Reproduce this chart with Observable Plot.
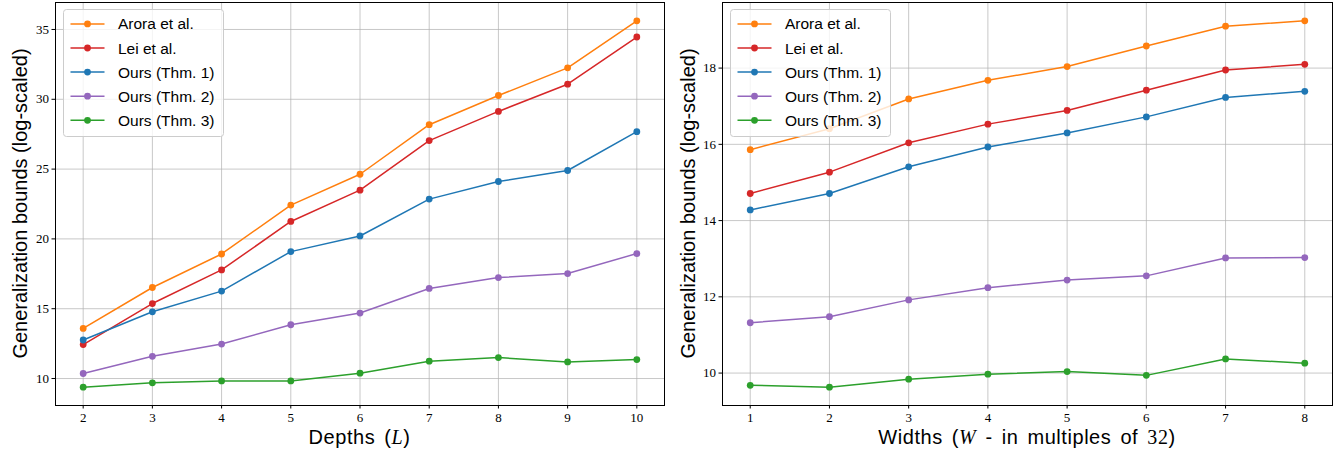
<!DOCTYPE html>
<html><head><meta charset="utf-8">
<script src="https://cdn.jsdelivr.net/npm/d3@7"></script>
<script src="https://cdn.jsdelivr.net/npm/@observablehq/plot@0.6"></script>
<style>
body{margin:0;background:#fff;}
#wrap{display:flex;width:1343px;height:460px;overflow:hidden;}
</style></head><body><div id="wrap"></div>
<script>
const seriesNames = ["Arora et al.", "Lei et al.", "Ours (Thm. 1)", "Ours (Thm. 2)", "Ours (Thm. 3)"];
const seriesColors = ["#ff7f0e", "#d62728", "#1f77b4", "#9467bd", "#2ca02c"];

const depths = [2, 3, 4, 5, 6, 7, 8, 9, 10];
const aroraDepth = [13.59, 16.52, 18.92, 22.42, 24.63, 28.18, 30.27, 32.25, 35.62];
const leiDepth   = [12.43, 15.37, 17.78, 21.25, 23.49, 27.04, 29.13, 31.08, 34.46];
const thm1Depth  = [12.76, 14.78, 16.26, 19.09, 20.21, 22.85, 24.11, 24.90, 27.68];
const thm2Depth  = [10.36, 11.59, 12.47, 13.85, 14.69, 16.45, 17.23, 17.52, 18.95];
const thm3Depth  = [9.38, 9.69, 9.83, 9.83, 10.38, 11.24, 11.50, 11.19, 11.36];
const depthYTicks = [10, 15, 20, 25, 30, 35];

const widths = [1, 2, 3, 4, 5, 6, 7, 8];
const aroraWidth = [15.86, 16.41, 17.19, 17.68, 18.04, 18.58, 19.10, 19.24];
const leiWidth   = [14.71, 15.27, 16.04, 16.53, 16.89, 17.42, 17.95, 18.10];
const thm1Width  = [14.28, 14.71, 15.41, 15.93, 16.30, 16.72, 17.23, 17.39];
const thm2Width  = [11.32, 11.48, 11.92, 12.24, 12.44, 12.55, 13.02, 13.03];
const thm3Width  = [9.68, 9.63, 9.84, 9.97, 10.04, 9.94, 10.37, 10.26];
const widthYTicks = [10, 12, 14, 16, 18];

const yLabel = "Generalization bounds (log-scaled)";
const depthLabel = [["Depths (", "sans"], ["L", "ital"], [")", "sans"]];
const widthLabel = [["Widths (", "sans"], ["W", "ital"], [" - in multiples of ", "sans"], ["32", "serif"], [")", "sans"]];

const SANS = "'Liberation Sans', Arial, sans-serif";
const SERIF = "'Liberation Serif', 'Times New Roman', serif";

function panel({xs, values, yTicks, width, marginLeft, marginRight, xLabel}) {
  const height = 460, marginTop = 2, marginBottom = 55;
  const rows = [];
  seriesNames.forEach((s, i) => xs.forEach((x, j) => rows.push({series: s, x, y: values[i][j]})));
  const lo = d3.min(rows, d => d.y), hi = d3.max(rows, d => d.y), pad = (hi - lo) * 0.05;
  const xlo = d3.min(xs), xhi = d3.max(xs), xpad = (xhi - xlo) * 0.05;
  const marks = [
    Plot.gridX(xs, {stroke: "#b0b0b0", strokeOpacity: 0.7, strokeWidth: 1}),
    Plot.gridY(yTicks, {stroke: "#b0b0b0", strokeOpacity: 0.7, strokeWidth: 1})
  ];
  seriesNames.forEach(s => {
    const d = rows.filter(r => r.series === s);
    marks.push(Plot.line(d, {x: "x", y: "y", stroke: "series", strokeWidth: 1.5}));
    marks.push(Plot.dot(d, {x: "x", y: "y", fill: "series", r: 3.4}));
  });
  marks.push(
    Plot.axisX(xs, {tickSize: 3.5, tickPadding: 4, label: null, stroke: "#000"}),
    Plot.axisY(yTicks, {tickSize: 3.5, tickPadding: 3, label: null, stroke: "#000"}),
    Plot.frame({stroke: "#000", strokeWidth: 1})
  );
  const svg = Plot.plot({
    width, height, marginLeft, marginRight, marginTop, marginBottom,
    style: {fontFamily: SERIF, fontSize: "13px", color: "#000", background: "#fff"},
    x: {domain: [xlo - xpad, xhi + xpad]},
    y: {domain: [lo - pad, hi + pad]},
    color: {domain: seriesNames, range: seriesColors},
    marks
  });
  const root = d3.select(svg);
  const fx = marginLeft, fy = marginTop, fw = width - marginLeft - marginRight, fh = height - marginTop - marginBottom;
  // y label
  root.append("text")
    .attr("transform", `translate(20,${fy + fh / 2}) rotate(-90)`)
    .attr("text-anchor", "middle").attr("dominant-baseline", "central")
    .style("font-family", SANS).style("font-size", "20px").attr("fill", "#000")
    .text(yLabel);
  // x label
  const xl = root.append("text")
    .attr("x", fx + fw / 2).attr("y", 444)
    .attr("text-anchor", "middle")
    .style("font-family", SANS).style("font-size", "20px")
    .style("letter-spacing", "0.55px").style("word-spacing", "3px").attr("fill", "#000");
  xLabel.forEach(([t, kind]) => {
    const ts = xl.append("tspan").text(t);
    if (kind === "ital") ts.style("font-family", SERIF).style("font-style", "italic");
    if (kind === "serif") ts.style("font-family", SERIF);
  });
  // legend
  const lg = root.append("g").attr("transform", `translate(${fx + 8.5},9.5)`);
  lg.append("rect").attr("width", 160).attr("height", 127).attr("rx", 3)
    .attr("fill", "#fff").attr("fill-opacity", 0.8).attr("stroke", "#cccccc");
  seriesNames.forEach((s, i) => {
    const y = 14.4 + i * 24.1;
    lg.append("line").attr("x1", 7).attr("x2", 41).attr("y1", y).attr("y2", y)
      .attr("stroke", seriesColors[i]).attr("stroke-width", 1.5);
    lg.append("circle").attr("cx", 24).attr("cy", y).attr("r", 3.4).attr("fill", seriesColors[i]);
    lg.append("text").attr("x", 54.5).attr("y", y).attr("dominant-baseline", "central")
      .attr("text-anchor", "start")
      .style("font-family", SANS).style("font-size", "15.5px").attr("fill", "#000").text(s);
  });
  return svg;
}

const wrap = document.getElementById("wrap");
wrap.appendChild(panel({
  xs: depths, values: [aroraDepth, leiDepth, thm1Depth, thm2Depth, thm3Depth], yTicks: depthYTicks,
  width: 668, marginLeft: 55, marginRight: 4, xLabel: depthLabel
}));
wrap.appendChild(panel({
  xs: widths, values: [aroraWidth, leiWidth, thm1Width, thm2Width, thm3Width], yTicks: widthYTicks,
  width: 675, marginLeft: 54, marginRight: 11, xLabel: widthLabel
}));
</script></body></html>
